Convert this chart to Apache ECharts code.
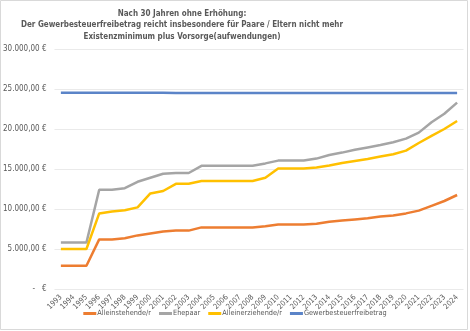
<!DOCTYPE html>
<html><head><meta charset="utf-8">
<script src="https://cdn.jsdelivr.net/npm/echarts@6/dist/echarts.min.js"></script>
<style>html,body{margin:0;padding:0;background:#fff}#c{width:470px;height:331px}</style>
</head><body><div id="c"></div>
<script>
const years = ['1993','1994','1995','1996','1997','1998','1999','2000','2001','2002','2003','2004','2005','2006','2007','2008','2009','2010','2011','2012','2013','2014','2015','2016','2017','2018','2019','2020','2021','2022','2023','2024'];
const alleinstehende = [2900,2900,2900,6200,6200,6350,6700,6950,7200,7300,7300,7700,7700,7700,7700,7700,7850,8050,8050,8050,8150,8400,8550,8700,8850,9050,9200,9450,9800,10400,11000,11750];
const ehepaar = [5800,5800,5800,12400,12400,12600,13400,13900,14400,14500,14500,15400,15400,15400,15400,15400,15700,16050,16050,16050,16300,16750,17050,17400,17700,18000,18350,18800,19550,20850,21900,23300];
const alleinerziehende = [5000,5000,5000,9450,9700,9850,10200,11950,12250,13150,13150,13500,13500,13500,13500,13500,13900,15050,15050,15050,15200,15450,15750,16000,16250,16550,16850,17300,18250,19150,20000,21000];
const gewerbe = [24542,24542,24542,24542,24542,24542,24542,24542,24542,24500,24500,24500,24500,24500,24500,24500,24500,24500,24500,24500,24500,24500,24500,24500,24500,24500,24500,24500,24500,24500,24500,24500];
const seriesNames = ['Alleinstehende/r','Ehepaar','Alleinerziehende/r','Gewerbesteuerfreibetrag'];
const titleText = 'Nach 30 Jahren ohne Erhöhung:\nDer Gewerbesteuerfreibetrag reicht insbesondere für Paare / Eltern nicht mehr\nExistenzminimum plus Vorsorge(aufwendungen)';

const chart = echarts.init(document.getElementById('c'), null, {renderer:'canvas'});
const font = 'Liberation Sans Narrow, DejaVu Sans Condensed, Liberation Sans, sans-serif';
function fmt(v){
  if (v === 0) return '-   €';
  const s = v.toFixed(2).split('.');
  return s[0].replace(/\B(?=(\d{3})+(?!\d))/g,'.') + ',' + s[1] + ' €';
}
const colors = ['#ED7D31','#A5A5A5','#FFC000','#5B84C8'];
const data = [alleinstehende, ehepaar, alleinerziehende, gewerbe];
chart.setOption({
  animation:false,
  color: colors,
  graphic:[{type:'rect', shape:{x:0.5,y:0.5,width:467,height:329}, style:{fill:'none', stroke:'#D9D9D9', lineWidth:1}, silent:true}],
  title:{text:titleText, left:177, textAlign:'center', top:3,
    textStyle:{fontFamily:font, fontSize:8, fontWeight:'bold', color:'#595959', lineHeight:11.5}},
  legend:{bottom:9, left:'center', itemWidth:13, itemHeight:3, itemGap:8, icon:'rect',
    textStyle:{fontFamily:font, fontSize:7.3, color:'#595959', padding:[0,0,0,-4]}, data: seriesNames},
  grid:{left:48, right:6.5, top:49, bottom:42, containLabel:false},
  xAxis:{type:'category', data:years, boundaryGap:true,
    axisLine:{show:false}, axisTick:{show:false},
    axisLabel:{rotate:45, fontFamily:font, fontSize:7.5, color:'#595959', margin:7, interval:0}},
  yAxis:{type:'value', min:0, max:30000, interval:5000,
    axisLine:{show:false}, axisTick:{show:false},
    splitLine:{lineStyle:{color:'#EAEAEA', width:1}},
    axisLabel:{formatter:fmt, fontFamily:font, fontSize:8, color:'#595959', margin:8}},
  series: seriesNames.map((n,i)=>({name:n, type:'line', data:data[i], symbol:'none',
    lineStyle:{width:2.5, color:colors[i]}, z: i===3?1:2}))
});
</script></body></html>
